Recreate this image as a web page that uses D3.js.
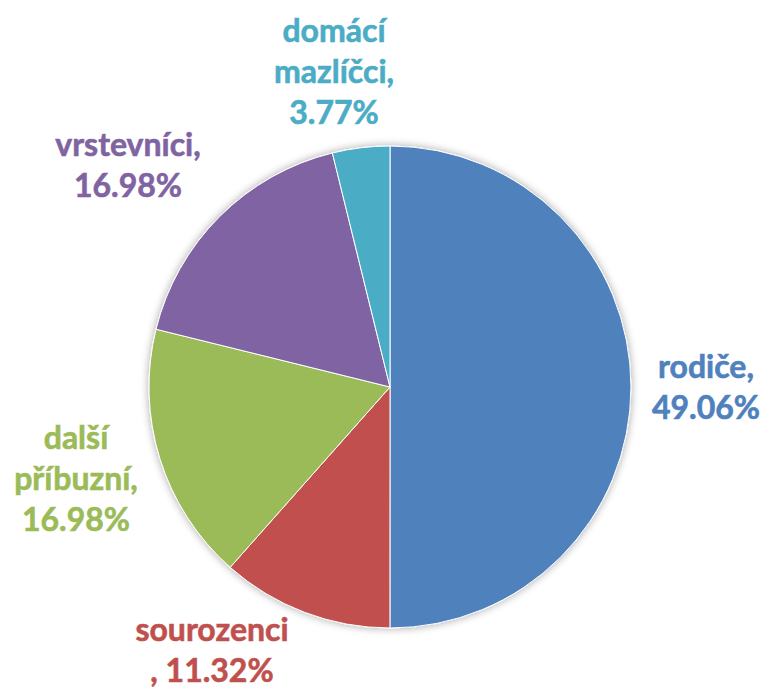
<!DOCTYPE html>
<html>
<head>
<meta charset="utf-8">
<script src="https://cdn.jsdelivr.net/npm/d3@7"></script>
<style>
  body { margin: 0; background: #fff; }
  text { font-family: Lato, "Open Sans", sans-serif; font-weight: bold; }
</style>
</head>
<body>
<div id="chart"></div>
<script>
const width = 765;
const height = 688;

const categories = ["rodiče", "sourozenci", "další příbuzní", "vrstevníci", "domácí mazlíčci"];
const values = [49.06, 11.32, 16.98, 16.98, 3.77];
const colors = ["#4F81BD", "#C0504D", "#9BBB59", "#8064A2", "#4BACC6"];

// label line breaks and anchor points (layout only)
const labelLines = [
    d => [d.name + ",", d.pct],
    d => [d.name, ", " + d.pct],
    d => ["další", "příbuzní,", d.pct],
    d => [d.name + ",", d.pct],
    d => ["domácí", "mazlíčci,", d.pct]
];
const labelPos = [[706, 378], [212, 641], [76, 449], [128, 156], [334, 42]];

const cx = 390, cy = 387, radius = 241;

const data = categories.map((c, i) => ({
    name: c,
    value: values[i],
    pct: values[i].toFixed(2) + "%",
    color: colors[i],
    i: i
}));

const svg = d3.select("#chart")
    .append("svg")
    .attr("width", width)
    .attr("height", height);

const defs = svg.append("defs");
const shadow = defs.append("filter")
    .attr("id", "shadow")
    .attr("x", "-20%").attr("y", "-20%")
    .attr("width", "140%").attr("height", "140%");
shadow.append("feGaussianBlur").attr("in", "SourceAlpha").attr("stdDeviation", 4);
shadow.append("feOffset").attr("dx", 0).attr("dy", 0).attr("result", "blur");
shadow.append("feComponentTransfer").append("feFuncA").attr("type", "linear").attr("slope", 0.35);
const merge = shadow.append("feMerge");
merge.append("feMergeNode");
merge.append("feMergeNode").attr("in", "SourceGraphic");

const pie = d3.pie()
    .value(d => d.value)
    .sort(null);

const arc = d3.arc()
    .innerRadius(0)
    .outerRadius(radius);

const g = svg.append("g")
    .attr("transform", `translate(${cx},${cy})`)
    .attr("filter", "url(#shadow)");

g.selectAll("path")
    .data(pie(data))
    .enter().append("path")
    .attr("d", arc)
    .attr("fill", d => d.data.color)
    .attr("stroke", "#fff")
    .attr("stroke-width", 1);

const labels = svg.append("g")
    .selectAll("text")
    .data(data)
    .enter().append("text")
    .attr("x", d => labelPos[d.i][0])
    .attr("y", d => labelPos[d.i][1])
    .attr("text-anchor", "middle")
    .attr("font-size", 32)
    .attr("stroke", d => d.color)
    .attr("stroke-width", 0.6)
    .attr("fill", d => d.color);

labels.selectAll("tspan")
    .data(d => labelLines[d.i](d).map(t => ({ t: t, x: labelPos[d.i][0] })))
    .enter().append("tspan")
    .attr("x", d => d.x)
    .attr("dy", (d, j) => j === 0 ? 0 : 41)
    .text(d => d.t);
</script>
</body>
</html>
